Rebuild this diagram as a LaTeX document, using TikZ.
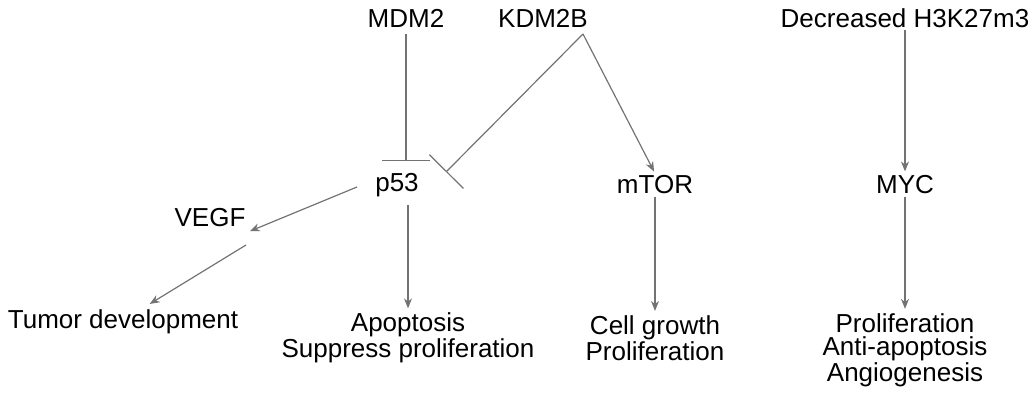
\documentclass[tikz,border=0pt]{standalone}
\usepackage{fontspec}
\setmainfont{Liberation Sans}
\usetikzlibrary{arrows.meta}
\begin{document}
\begin{tikzpicture}[x=0.5pt,y=-0.5pt,
  t/.style={font=\fontsize{13}{11.5}\selectfont, inner sep=1pt, align=center},
  ln/.style={draw=black!55, line width=0.6pt},
  ar/.style={ln, -{Stealth[length=5pt,width=4pt]}, shorten >=1pt},
  inh/.style={ln, -{Bar[width=24pt]}}]
\useasboundingbox (0,0) rectangle (1034,417);
\node[t] (mdm) at (406,18) {MDM2};
\node[t] (kdm) at (543,18) {KDM2B};
\node[t] (h3) at (905,18) {Decreased H3K27m3};
\node[t] (p53) at (397,185) {p53};
\node[t] (mtor) at (655,185) {mTOR};
\node[t] (myc) at (905,185) {MYC};
\node[t] (vegf) at (210,218) {VEGF};
\node[t] (tumor) at (123,322) {Tumor development};
\node[t] (apo) at (408,338) {Apoptosis\\Suppress proliferation};
\node[t] (cell) at (655,338) {Cell growth\\Proliferation};
\node[t] (prol) at (905,350) {Proliferation\\Anti-apoptosis\\Angiogenesis};
\coordinate (k) at (583,34);
\coordinate (m) at (406,34);
\coordinate (pt) at (406,161);
\coordinate (kt) at (446,172);
\coordinate (p5w) at (357,187);
\coordinate (vge) at (248,232);
\coordinate (vgs) at (246,245);
\coordinate (tun) at (148,305);
\draw[inh] (m) -- (pt);
\draw[inh] (k) -- (kt);
\draw[ar] (k) -- (mtor.north);
\draw[ar] (p5w) -- (vge);
\draw[ar] (vgs) -- (tun);
\draw[ar] (408,205) -- (apo.north);
\draw[ar] (mtor.south) -- (cell.north);
\draw[ar] (h3.south) -- (myc.north);
\draw[ar] (myc.south) -- (prol.north);
\end{tikzpicture}
\end{document}
